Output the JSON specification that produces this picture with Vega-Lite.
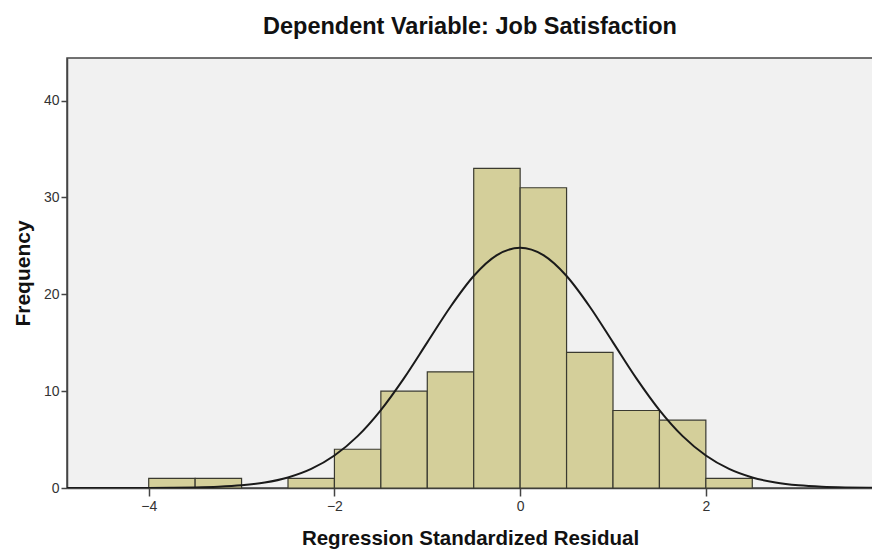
{
  "$schema": "https://vega.github.io/schema/vega-lite/v6.json",
  "autosize": "none",
  "width": 806,
  "height": 430,
  "padding": {"left": 67, "top": 58, "right": 0, "bottom": 64},
  "background": "white",
  "config": {
    "font": "Liberation Sans",
    "view": {"fill": "#F1F1F1", "stroke": "#444444", "strokeWidth": 1.5},
    "axis": {"grid": false, "domainColor": "#444444", "domainWidth": 1.5, "tickColor": "#444444", "tickWidth": 1.5, "labelColor": "#333333", "labelFont": "Liberation Sans", "labelFontSize": 14, "titleFont": "Liberation Sans", "titleFontWeight": "bold", "titleColor": "#111111"}
  },
  "title": {"text": "Dependent Variable: Job Satisfaction", "font": "Liberation Sans", "fontSize": 23.5, "fontWeight": "bold", "color": "#111111", "anchor": "middle", "frame": "group", "offset": 20},
  "datasets": {
    "bins": [
      {"start": -4.0, "end": -3.5, "count": 1},
      {"start": -3.5, "end": -3.0, "count": 1},
      {"start": -2.5, "end": -2.0, "count": 1},
      {"start": -2.0, "end": -1.5, "count": 4},
      {"start": -1.5, "end": -1.0, "count": 10},
      {"start": -1.0, "end": -0.5, "count": 12},
      {"start": -0.5, "end": 0.0, "count": 33},
      {"start": 0.0, "end": 0.5, "count": 31},
      {"start": 0.5, "end": 1.0, "count": 14},
      {"start": 1.0, "end": 1.5, "count": 8},
      {"start": 1.5, "end": 2.0, "count": 7},
      {"start": 2.0, "end": 2.5, "count": 1}
    ],
    "curve": [
      {"x": -4.88, "y": 0.0},
      {"x": -4.5, "y": 0.001},
      {"x": -4.25, "y": 0.003},
      {"x": -4.0, "y": 0.008},
      {"x": -3.75, "y": 0.022},
      {"x": -3.5, "y": 0.054},
      {"x": -3.25, "y": 0.126},
      {"x": -3.0, "y": 0.275},
      {"x": -2.75, "y": 0.565},
      {"x": -2.5, "y": 1.09},
      {"x": -2.25, "y": 1.97},
      {"x": -2.0, "y": 3.36},
      {"x": -1.75, "y": 5.36},
      {"x": -1.5, "y": 8.05},
      {"x": -1.25, "y": 11.35},
      {"x": -1.0, "y": 15.04},
      {"x": -0.75, "y": 18.72},
      {"x": -0.5, "y": 21.89},
      {"x": -0.25, "y": 24.04},
      {"x": 0.0, "y": 24.8},
      {"x": 0.25, "y": 24.04},
      {"x": 0.5, "y": 21.89},
      {"x": 0.75, "y": 18.72},
      {"x": 1.0, "y": 15.04},
      {"x": 1.25, "y": 11.35},
      {"x": 1.5, "y": 8.05},
      {"x": 1.75, "y": 5.36},
      {"x": 2.0, "y": 3.36},
      {"x": 2.25, "y": 1.97},
      {"x": 2.5, "y": 1.09},
      {"x": 2.75, "y": 0.565},
      {"x": 3.0, "y": 0.275},
      {"x": 3.25, "y": 0.126},
      {"x": 3.5, "y": 0.054},
      {"x": 3.75, "y": 0.022},
      {"x": 3.8, "y": 0.018}
    ]
  },
  "layer": [
    {
      "data": {"name": "bins"},
      "mark": {"type": "rect", "fill": "#D4CF9A", "stroke": "#3A3A30", "strokeWidth": 1.2},
      "encoding": {
        "x": {"field": "start", "type": "quantitative", "scale": {"domain": [-4.88, 3.8], "nice": false, "zero": false},
              "axis": {"values": [-4, -2, 0, 2], "format": "d", "tickSize": 8, "labelPadding": 3, "title": "Regression Standardized Residual", "titleFontSize": 20.5, "titlePadding": 15}},
        "x2": {"field": "end"},
        "y": {"field": "count", "type": "quantitative", "scale": {"domain": [0, 44.4], "nice": false},
              "axis": {"values": [0, 10, 20, 30, 40], "format": "d", "tickSize": 6, "labelPadding": 2, "title": "Frequency", "titleFontSize": 21, "titlePadding": 10}},
        "y2": {"datum": 0}
      }
    },
    {
      "data": {"name": "curve"},
      "mark": {"type": "line", "color": "#1A1A1A", "strokeWidth": 2, "interpolate": "monotone", "clip": true},
      "encoding": {
        "x": {"field": "x", "type": "quantitative"},
        "y": {"field": "y", "type": "quantitative"}
      }
    }
  ]
}
